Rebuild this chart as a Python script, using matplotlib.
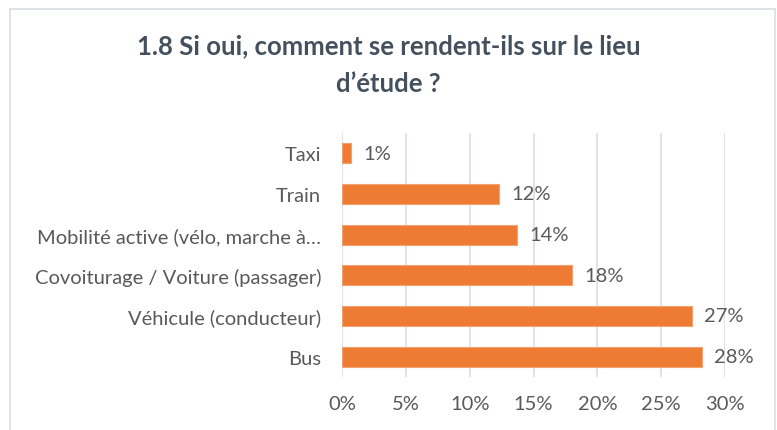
import matplotlib.pyplot as plt
from matplotlib.patches import Rectangle
from matplotlib.ticker import FuncFormatter

plt.rcParams['font.family'] = ['Lato', 'DejaVu Sans']

categories = ["Bus", "Véhicule (conducteur)", "Covoiturage / Voiture (passager)",
              "Mobilité active (vélo, marche à…", "Train", "Taxi"]
values = [28.2, 27.4, 18.0, 13.7, 12.3, 0.7]
value_labels = ["28%", "27%", "18%", "14%", "12%", "1%"]
x_ticks = [0, 5, 10, 15, 20, 25, 30]

text_col = "#595959"
title_col = "#44505E"

fig = plt.figure(figsize=(7.77, 4.31), dpi=100)
fig.patches.append(Rectangle((10 / 777, -0.01), 765 / 777, 1 - 10 / 431 + 0.01,
                             transform=fig.transFigure, fill=False,
                             edgecolor="#D9DDE3", linewidth=1.2))

ax = fig.add_axes([342 / 777, 53 / 431, 383 / 777, 244 / 431])
y = range(len(categories))
ax.barh(y, values, height=0.49, color="#EE7B33", edgecolor="#F4A171", linewidth=0.8, zorder=3)

for i, (v, lab) in enumerate(zip(values, value_labels)):
    ax.text(v + 0.95, i, lab, va="center", ha="left", fontsize=14.5, color=text_col)

ax.set_xlim(0, 30)
ax.set_ylim(-0.5, len(categories) - 0.5)
ax.set_xticks(x_ticks)
ax.xaxis.set_major_formatter(FuncFormatter(lambda v, p: f"{v:.0f}%"))
ax.set_yticks(list(y))
ax.set_yticklabels(categories)
ax.tick_params(axis="both", length=0, labelsize=14.5, labelcolor=text_col)
ax.tick_params(axis="x", pad=13)
ax.tick_params(axis="y", pad=15)
ax.grid(axis="x", color="#D9DEE5", linewidth=1.2, zorder=0)
for s in ax.spines.values():
    s.set_visible(False)

fig.text(0.5, 1 - 46 / 431, "1.8 Si oui, comment se rendent-ils sur le lieu",
         ha="center", va="center", fontsize=18.5, fontweight="bold", color=title_col)
fig.text(0.5, 1 - 84 / 431, "d’étude ?",
         ha="center", va="center", fontsize=18.5, fontweight="bold", color=title_col)

fig.savefig("out.png", dpi=100)
